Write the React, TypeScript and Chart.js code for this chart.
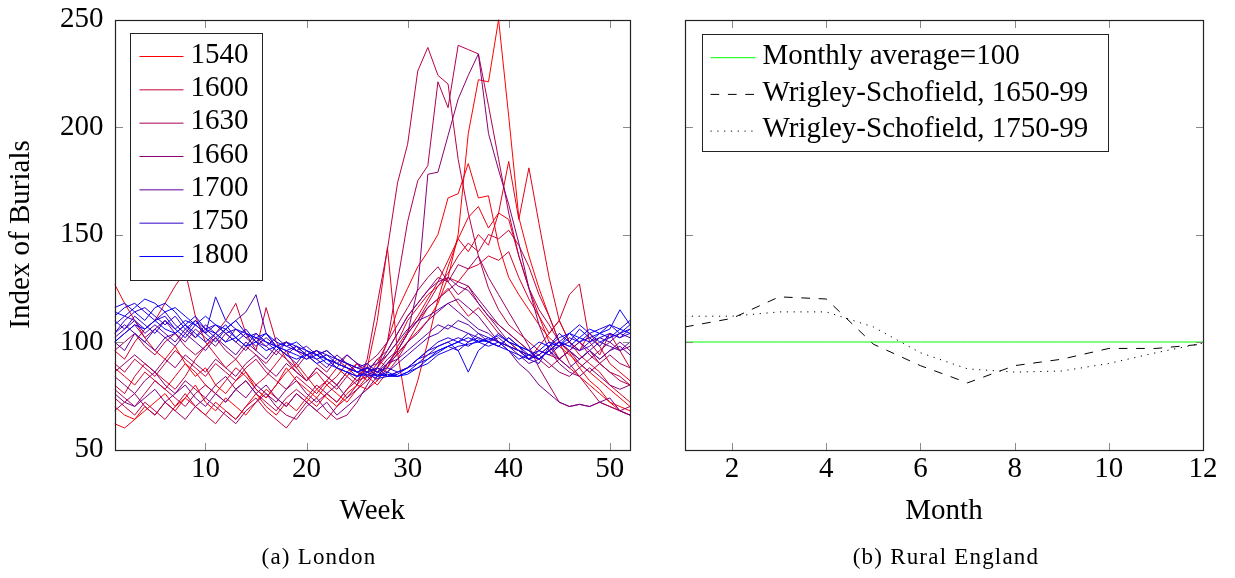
import React, { useEffect, useRef } from 'react';
import { Chart, registerables } from 'chart.js';

Chart.register(...registerables);

const FONT = "'Liberation Serif', 'Times New Roman', serif";
Chart.defaults.font.family = FONT;
Chart.defaults.color = '#000';

// ---------- London (weekly burials index) ----------
const weeks = [1,2,3,4,5,6,7,8,9,10,11,12,13,14,15,16,17,18,19,20,21,22,23,24,25,26,27,28,29,30,31,32,33,34,35,36,37,38,39,40,41,42,43,44,45,46,47,48,49,50,51,52];
const weekTicks = [10, 20, 30, 40, 50];
const burialTicks = [50, 100, 150, 200, 250];
const legendYears = [1540, 1600, 1630, 1660, 1700, 1750, 1800];

const s1540 = [70,66,64,68,72,76,70,74,80,72, 68,74,70,66,72,78,74,70,76,72, 78,74,70,76,80,78,82,88,95,100, 105,110,118,130,150,197,222,221,250,205, 158,140,125,112,100,95,88,82,78,72, 70,68];
const s1550 = [127,118,110,102,96,92,98,90,84,88, 80,76,82,86,78,74,80,88,82,78, 74,80,76,72,78,84,90,100,115,125, 135,142,150,167,169,183,167,168,145,130, 122,115,108,102,98,94,90,86,82,78, 74,70];
const s1560 = [62,60,64,70,66,72,68,74,70,66, 72,68,64,70,76,70,66,72,68,74, 70,76,72,78,84,88,110,144,95,67, 82,100,120,135,148,158,163,153,160,157, 140,125,112,100,92,88,84,80,76,72, 68,66];
const s1570 = [88,84,80,86,82,78,84,90,86,80, 76,82,88,84,78,74,80,86,90,84, 78,82,88,84,90,86,92,88,98,105, 112,120,128,138,148,142,150,145,160,184, 157,181,155,130,110,100,96,104,98,90, 86,82];
const s1580 = [96,92,100,106,110,118,126,133,112,100, 94,88,92,86,80,84,90,96,88,82, 86,80,84,90,86,82,88,94,100,110, 116,122,126,130,128,134,136,140,138,142, 130,120,112,104,110,100,94,90,86,80, 76,72];
const s1590 = [80,76,84,90,86,82,78,84,92,98, 104,110,118,104,96,116,100,92,86,82, 88,84,80,86,90,84,80,86,92,100, 108,116,120,125,118,112,116,110,104,100, 96,92,98,104,110,122,127,100,94,104, 96,88];
const s1600 = [74,70,66,72,68,64,70,76,70,66, 62,68,64,70,74,68,64,60,66,72, 68,64,70,74,80,86,82,90,96,104, 110,118,126,132,140,146,142,150,148,152, 145,135,122,112,100,90,84,78,72,70, 68,66];
const s1610 = [90,86,92,88,84,90,96,92,88,84, 90,86,82,88,92,86,82,78,84,80, 76,82,78,84,80,92,118,143,174,192, 226,237,224,220,185,160,140,125,115,108, 104,100,96,94,92,96,100,94,90,86, 82,80];
const s1620 = [78,74,70,76,82,78,74,70,76,80, 76,72,78,82,76,72,68,74,78,74, 80,76,72,78,82,84,88,100,128,156, 175,182,221,209,238,236,234,210,185,160, 140,125,115,108,100,96,92,96,90,86, 84,80];
const s1630 = [96,100,104,98,94,100,104,98,94,98, 102,96,92,98,94,90,96,92,88,94, 90,86,92,88,84,90,94,100,108,116, 124,130,135,128,122,126,118,112,108,104, 100,96,92,88,92,96,90,86,90,94, 90,88];
const s1640 = [68,72,76,70,66,72,68,64,70,74, 70,66,62,68,72,76,70,66,64,70, 74,68,64,66,72,80,88,96,104,112, 118,124,130,128,136,134,140,130,122,114, 106,98,88,80,72,70,71,70,72,70, 68,70];
const s1650 = [86,90,94,90,86,92,88,94,90,86, 92,88,84,90,94,88,84,90,86,82, 88,84,80,86,82,88,84,90,96,104, 110,116,120,124,128,126,120,114,108,104, 100,96,94,90,86,84,88,92,96,100, 96,98];
const s1660 = [84,80,76,82,86,80,76,82,78,74, 80,84,78,74,80,76,72,78,82,76, 72,76,80,74,78,82,86,92,96,104, 125,178,179,196,213,224,234,197,180,164, 146,125,108,96,90,86,84,88,84,80, 78,80];
const s1670 = [100,104,108,102,106,110,104,100,106,102, 98,104,100,96,102,98,94,100,96,92, 96,92,88,94,90,86,92,96,104,112, 118,124,128,130,126,124,118,112,106,100, 96,92,94,98,92,96,100,96,92,96, 100,96];
const s1680 = [76,72,70,74,78,72,76,80,74,70, 76,72,78,82,76,80,74,70,76,72, 68,72,66,70,74,78,84,90,94,100, 104,110,114,118,120,116,112,106,100,96, 90,86,80,76,72,70,71,70,72,74, 68,66];
const s1700 = [100,96,104,100,96,102,98,104,100,96, 102,98,94,100,96,92,98,94,90,96, 92,88,94,90,86,88,90,94,100,106, 110,112,115,118,114,110,106,104,100,98, 94,90,92,96,92,88,92,96,92,96, 98,94];
const s1710 = [102,106,110,104,108,104,100,106,102,108, 104,100,106,102,98,102,98,94,98,94, 96,92,90,94,90,88,86,90,92,96, 100,104,108,106,110,108,104,100,102,98, 96,94,92,96,100,96,92,96,100,98, 96,100];
const s1720 = [104,108,104,100,106,102,104,108,102,106, 102,106,110,114,122,104,98,100,96,98, 94,96,92,90,88,86,88,86,90,94, 98,102,104,108,106,104,102,100,98,102, 98,94,92,96,98,100,96,98,102,100, 104,102];
const s1740 = [108,112,110,106,110,114,108,104,110,106, 108,104,106,102,104,100,98,100,96,94, 96,92,90,88,86,88,86,84,86,88, 92,94,98,100,102,100,104,102,100,98, 96,94,92,96,100,98,96,100,102,104, 102,106];
const s1750 = [104,110,114,116,112,108,112,106,110,104, 108,104,100,104,100,98,102,98,96,94, 96,94,92,90,88,86,88,84,86,88, 90,94,96,98,96,100,102,100,104,100, 98,92,90,98,100,104,100,102,98,104, 102,104];
const s1760 = [110,106,112,108,104,110,106,102,108,104, 100,106,102,98,104,100,96,100,98,96, 94,96,92,90,88,90,86,88,86,88, 92,96,100,102,100,104,100,98,100,96, 94,92,96,94,98,102,100,104,100,102, 104,106];
const s1770 = [112,116,118,114,110,112,106,110,108,104, 121,110,106,104,102,100,98,96,98,94, 92,94,90,88,86,84,85,84,84,86, 88,90,94,96,98,99,100,102,100,98, 96,92,94,98,102,104,108,104,106,108, 104,108];
const s1780 = [116,118,114,110,116,118,114,108,112,106, 104,108,102,106,100,104,98,96,94,92, 94,90,88,86,84,85,83,84,85,88, 92,96,98,100,96,86,96,100,98,102, 98,96,100,98,104,100,106,102,104,108, 106,110];
const s1790 = [114,112,116,120,118,114,116,112,108,112, 108,106,110,104,102,104,100,98,100,96, 94,92,90,88,86,88,84,86,84,85, 88,92,95,98,100,98,101,100,98,96, 92,94,96,100,98,104,102,100,104,106, 115,108];
const s1800 = [100,104,108,106,110,106,104,108,104,100, 104,100,102,98,100,96,98,94,92,94, 90,92,88,86,84,86,84,85,84,86, 90,92,96,98,100,102,100,101,103,100, 98,96,92,96,100,98,102,106,104,102, 106,104];

const londonSeries: [number, number[]][] = [
  [1540, s1540], [1550, s1550], [1560, s1560], [1570, s1570], [1580, s1580],
  [1590, s1590], [1600, s1600], [1610, s1610], [1620, s1620], [1630, s1630],
  [1640, s1640], [1650, s1650], [1660, s1660], [1670, s1670], [1680, s1680],
  [1700, s1700], [1710, s1710], [1720, s1720], [1740, s1740], [1750, s1750],
  [1760, s1760], [1770, s1770], [1780, s1780], [1790, s1790], [1800, s1800],
];

// ---------- Rural England (monthly) ----------
const months = [1,2,3,4,5,6,7,8,9,10,11,12];
const monthTicks = [2, 4, 6, 8, 10, 12];
const monthlyAverage = [100,100,100,100,100,100,100,100,100,100,100,100];
const ws1650 = [107, 111, 121, 120, 99, 89, 81, 89, 92, 97, 97, 99];
const ws1750 = [112, 112, 114, 114, 107, 95, 87.5, 86, 86.5, 90, 95, 99.5];

function yearColor(year: number): string {
  const t = (year - 1540) / (1800 - 1540);
  return `rgb(${Math.round(255 * (1 - t))},0,${Math.round(255 * t)})`;
}

const framePlugin = {
  id: 'frameTicks',
  afterDatasetsDraw(chart: any) {
    const { ctx, chartArea: a } = chart;
    const xs = chart.scales.x;
    const ys = chart.scales.y;
    const L = 7.5;
    const left = Math.round(a.left) + 0.5;
    const right = Math.round(a.right) + 0.5;
    const top = Math.round(a.top) + 0.5;
    const bottom = Math.round(a.bottom) + 0.5;
    ctx.save();
    ctx.strokeStyle = '#8a8a8a';
    ctx.lineWidth = 1;
    ctx.beginPath();
    xs.ticks.forEach((t: any) => {
      const px = Math.round(xs.getPixelForValue(t.value)) + 0.5;
      ctx.moveTo(px, bottom); ctx.lineTo(px, bottom - L);
      ctx.moveTo(px, top); ctx.lineTo(px, top + L);
    });
    ys.ticks.forEach((t: any) => {
      const py = Math.round(ys.getPixelForValue(t.value)) + 0.5;
      ctx.moveTo(left, py); ctx.lineTo(left + L, py);
      ctx.moveTo(right, py); ctx.lineTo(right - L, py);
    });
    ctx.stroke();
    ctx.strokeStyle = '#222';
    ctx.lineWidth = 1.2;
    ctx.strokeRect(left, top, right - left, bottom - top);
    ctx.restore();
  },
};

type LegendEntry = { label: string; color: string; dash?: number[] };
type LegendBox = {
  offsetX: number; offsetY: number; width: number; height: number;
  firstRow: number; rowStep: number; sampleX: number; sampleLen: number; textX: number;
  entries: LegendEntry[];
};

function makeLegendPlugin(cfg: LegendBox) {
  return {
    id: 'boxLegend',
    afterDraw(chart: any) {
      const { ctx, chartArea: a } = chart;
      const bx = Math.round(a.left + cfg.offsetX) + 0.5;
      const by = Math.round(a.top + cfg.offsetY) + 0.5;
      ctx.save();
      ctx.fillStyle = '#fff';
      ctx.fillRect(bx, by, cfg.width, cfg.height);
      ctx.lineWidth = 1;
      ctx.setLineDash([]);
      ctx.strokeStyle = '#222';
      ctx.strokeRect(bx, by, cfg.width, cfg.height);
      for (let i = 0; i < cfg.entries.length; i++) {
        const e = cfg.entries[i];
        const ry = by + cfg.firstRow + i * cfg.rowStep;
        ctx.save();
        ctx.strokeStyle = e.color;
        ctx.lineWidth = 1;
        ctx.setLineDash(e.dash ? e.dash : []);
        ctx.beginPath();
        ctx.moveTo(bx + cfg.sampleX, ry);
        ctx.lineTo(bx + cfg.sampleX + cfg.sampleLen, ry);
        ctx.stroke();
        ctx.restore();
        ctx.save();
        ctx.font = `29px ${FONT}`;
        ctx.textBaseline = 'middle';
        ctx.textAlign = 'left';
        ctx.fillStyle = '#000';
        ctx.fillText(e.label, bx + cfg.textX, ry - 1.5);
        ctx.restore();
      }
      ctx.restore();
    },
  };
}

const tickFont = { size: 29, family: FONT };

function leftConfig(): any {
  const n = londonSeries.length;
  const datasets = londonSeries.map(([year, vals], i) => ({
    label: String(year),
    data: weeks.map((w, k) => ({ x: w, y: vals[k] })),
    borderColor: yearColor(year),
    borderWidth: 1,
    pointRadius: 0,
    tension: 0,
    fill: false,
    order: n - i,
  }));
  const entries = legendYears.map((year) => ({ label: String(year), color: yearColor(year) }));
  return {
    type: 'line',
    data: { datasets },
    options: {
      animation: false,
      responsive: false,
      devicePixelRatio: 1,
      layout: { padding: { top: 19.5, right: 20, bottom: 0, left: 0 } },
      plugins: { legend: { display: false }, tooltip: { enabled: false }, title: { display: false } },
      scales: {
        x: {
          type: 'linear', min: 1, max: 52,
          grid: { display: false, drawTicks: false },
          border: { display: false },
          ticks: { padding: 2, font: tickFont, color: '#000', maxRotation: 0, autoSkip: false },
          title: { display: true, text: 'Week', font: tickFont, color: '#000', padding: { top: 0, bottom: 49 } },
          afterBuildTicks: (s: any) => { s.ticks = weekTicks.map((v) => ({ value: v })); },
          afterFit: (s: any) => { s.height = 128.5; s.paddingLeft = 0; s.paddingRight = 0; },
        },
        y: {
          type: 'linear', min: 50, max: 250,
          grid: { display: false, drawTicks: false },
          border: { display: false },
          ticks: { padding: 11, font: tickFont, color: '#000' },
          title: { display: true, text: 'Index of Burials', font: tickFont, color: '#000', padding: { top: 4, bottom: 0 } },
          afterBuildTicks: (s: any) => { s.ticks = burialTicks.map((v) => ({ value: v })); },
          afterFit: (s: any) => { s.width = 114.5; s.paddingTop = 0; s.paddingBottom = 0; },
        },
      },
    },
    plugins: [
      framePlugin,
      makeLegendPlugin({
        offsetX: 15.5, offsetY: 13, width: 132, height: 247,
        firstRow: 23, rowStep: 33.3333, sampleX: 9, sampleLen: 44, textX: 60,
        entries,
      }),
    ],
  };
}

function rightConfig(): any {
  const mk = (vals: number[]) => months.map((m, k) => ({ x: m, y: vals[k] }));
  return {
    type: 'line',
    data: {
      datasets: [
        { label: 'Monthly average=100', data: mk(monthlyAverage), borderColor: '#00ff00', borderWidth: 1, pointRadius: 0, tension: 0 },
        { label: 'Wrigley-Schofield, 1650-99', data: mk(ws1650), borderColor: '#000', borderWidth: 1, borderDash: [8.7, 8.7], pointRadius: 0, tension: 0 },
        { label: 'Wrigley-Schofield, 1750-99', data: mk(ws1750), borderColor: '#000', borderWidth: 1, borderDash: [1.2, 5.6], pointRadius: 0, tension: 0 },
      ],
    },
    options: {
      animation: false,
      responsive: false,
      devicePixelRatio: 1,
      layout: { padding: { top: 19.5, right: 32, bottom: 0, left: 0 } },
      plugins: { legend: { display: false }, tooltip: { enabled: false }, title: { display: false } },
      scales: {
        x: {
          type: 'linear', min: 1, max: 12,
          grid: { display: false, drawTicks: false },
          border: { display: false },
          ticks: { padding: 2, font: tickFont, color: '#000', maxRotation: 0, autoSkip: false },
          title: { display: true, text: 'Month', font: tickFont, color: '#000', padding: { top: 0, bottom: 49 } },
          afterBuildTicks: (s: any) => { s.ticks = monthTicks.map((v) => ({ value: v })); },
          afterFit: (s: any) => { s.height = 128.5; s.paddingLeft = 0; s.paddingRight = 0; },
        },
        y: {
          type: 'linear', min: 50, max: 250,
          grid: { display: false, drawTicks: false },
          border: { display: false },
          ticks: { display: false },
          title: { display: false },
          afterBuildTicks: (s: any) => { s.ticks = burialTicks.map((v) => ({ value: v })); },
          afterFit: (s: any) => { s.width = 35; s.paddingTop = 0; s.paddingBottom = 0; },
        },
      },
    },
    plugins: [
      framePlugin,
      makeLegendPlugin({
        offsetX: 17, offsetY: 14, width: 406, height: 117,
        firstRow: 23.2, rowStep: 36.7, sampleX: 8, sampleLen: 45, textX: 60,
        entries: [
          { label: 'Monthly average=100', color: '#00ff00' },
          { label: 'Wrigley-Schofield, 1650-99', color: '#000', dash: [8.7, 8.7] },
          { label: 'Wrigley-Schofield, 1750-99', color: '#000', dash: [1.2, 5.6] },
        ],
      }),
    ],
  };
}

const captionStyle = (cx: number): React.CSSProperties => ({
  position: 'absolute',
  left: cx - 200,
  width: 400,
  top: 544,
  textAlign: 'center',
  fontFamily: FONT,
  fontSize: 23,
  letterSpacing: '1.2px',
  lineHeight: '26px',
  color: '#000',
  whiteSpace: 'nowrap',
});

export default function App() {
  const leftRef = useRef<HTMLCanvasElement>(null);
  const rightRef = useRef<HTMLCanvasElement>(null);

  useEffect(() => {
    const c1 = new Chart(leftRef.current as HTMLCanvasElement, leftConfig());
    const c2 = new Chart(rightRef.current as HTMLCanvasElement, rightConfig());
    return () => {
      c1.destroy();
      c2.destroy();
    };
  }, []);

  return (
    <div style={{ position: 'absolute', left: 0, top: 0, width: 1235, height: 578, background: '#fff', overflow: 'hidden' }}>
      <canvas ref={leftRef} width={650} height={578} style={{ position: 'absolute', left: 0, top: 0, width: 650, height: 578 }} />
      <canvas ref={rightRef} width={585} height={578} style={{ position: 'absolute', left: 650, top: 0, width: 585, height: 578 }} />
      <div style={captionStyle(319)}>(a) London</div>
      <div style={captionStyle(946)}>(b) Rural England</div>
    </div>
  );
}
